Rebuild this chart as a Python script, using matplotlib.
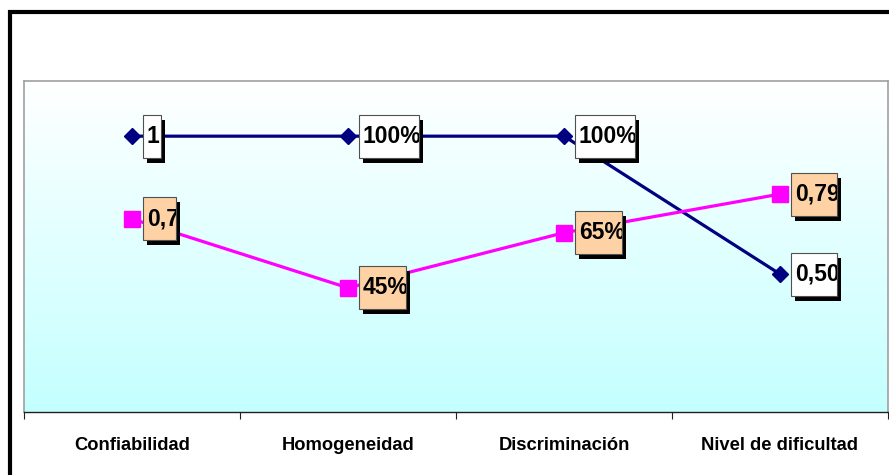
import numpy as np
import matplotlib
matplotlib.use("Agg")
import matplotlib.pyplot as plt
from matplotlib.colors import LinearSegmentedColormap
from matplotlib.patches import Rectangle

plt.rcParams['font.family'] = ['Liberation Sans', 'DejaVu Sans']

# datos
categorias = ['Confiabilidad', 'Homogeneidad', 'Discriminación', 'Nivel de dificultad']
serie_a = [1.0, 1.0, 1.0, 0.50]
etiquetas_a = ['1', '100%', '100%', '0,50']
serie_b = [0.70, 0.45, 0.65, 0.79]
etiquetas_b = ['0,7', '45%', '65%', '0,79']

W, H, DPI = 889, 475, 100
fig = plt.figure(figsize=(W / DPI, H / DPI), dpi=DPI)

# marco negro de la figura
fig.add_artist(Rectangle((10 / W, -0.2), 1.2, 1.2 - 12 / H, transform=fig.transFigure,
                         fill=False, edgecolor='black', linewidth=3, zorder=0))

# area de trazado (en pixeles)
left, right, top, bottom = 24, 888, 81, 412
ax = fig.add_axes([left / W, 1 - bottom / H, (right - left) / W, (bottom - top) / H])

x = np.arange(len(categorias)) + 0.5
ax.set_xlim(0, len(categorias))
ax.set_ylim(0, 1.2)

# fondo degradado blanco -> celeste
cmap = LinearSegmentedColormap.from_list('fondo', ['#FFFFFF', '#C4FFFF'])
grad = np.linspace(0, 1, 256).reshape(-1, 1)
ax.imshow(grad, extent=[0, len(categorias), 0, 1.2], aspect='auto', cmap=cmap,
          origin='upper', zorder=0)

ax.plot(x, serie_a, color='#000080', linewidth=2.3, marker='D', markersize=8,
        zorder=3)
ax.plot(x, serie_b, color='#FF00FF', linewidth=2.3, marker='s', markersize=11,
        zorder=3)

for s in ['top', 'left', 'right']:
    ax.spines[s].set_color('#A0A0A0')
    ax.spines[s].set_linewidth(1.2)
ax.spines['bottom'].set_color('#202020')
ax.spines['bottom'].set_linewidth(1.0)

ax.set_yticks([])
ax.set_xticks(np.arange(len(categorias) + 1))
ax.set_xticklabels([])
ax.tick_params(axis='x', which='major', length=5, direction='out', color='#202020')
ax.set_xticks(x, minor=True)
ax.set_xticklabels(categorias, minor=True, fontsize=13.2, fontweight='bold')
ax.tick_params(axis='x', which='minor', length=0, pad=18)

# etiquetas de datos con caja y sombra
fig.canvas.draw()
renderer = fig.canvas.get_renderer()
inv = fig.transFigure.inverted()


def etiqueta(xv, yv, texto, relleno):
    px, py = ax.transData.transform((xv, yv))
    x0 = px + 11
    h = 43
    t = fig.text(0, 0, texto, fontsize=16.5, fontweight='bold', color='black',
                 va='center', ha='left', zorder=6)
    tw = t.get_window_extent(renderer).width
    w = max(tw + 1, 18)
    # sombra
    sx, sy = inv.transform((x0 + 4, py - h / 2 - 5))
    fw, fh = w / W, h / H
    fig.add_artist(Rectangle((sx, sy), fw, fh, transform=fig.transFigure,
                             facecolor='black', edgecolor='none', zorder=4))
    bx, by = inv.transform((x0, py - h / 2))
    caja = Rectangle((bx, by), fw, fh, transform=fig.transFigure,
                     facecolor=relleno, edgecolor='#505050', linewidth=0.8, zorder=5)
    fig.add_artist(caja)
    tx, ty = inv.transform((x0 + 4, py))
    t.set_position((tx, ty))
    t.set_clip_path(caja)


for xv, yv, txt in zip(x, serie_a, etiquetas_a):
    etiqueta(xv, yv, txt, 'white')
for xv, yv, txt in zip(x, serie_b, etiquetas_b):
    etiqueta(xv, yv, txt, '#FFD2A6')

fig.savefig('out.png', dpi=DPI)
